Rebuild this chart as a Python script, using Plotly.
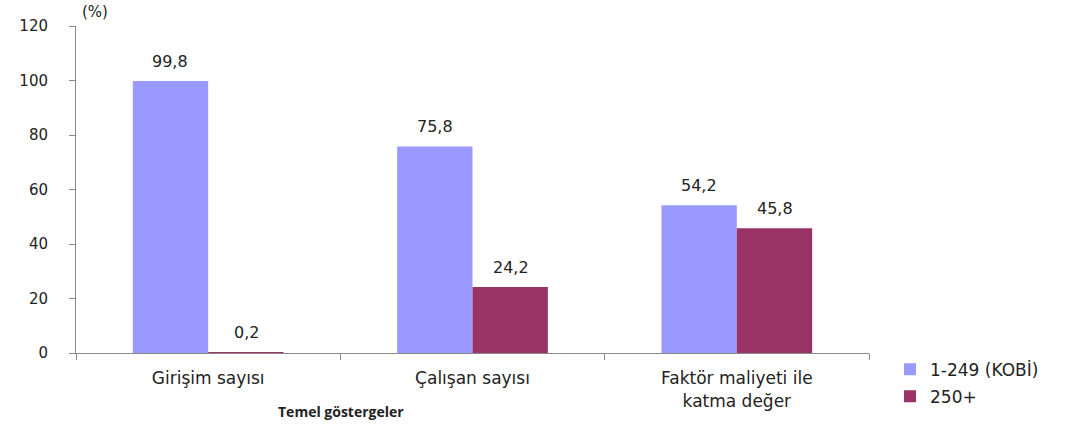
import plotly.graph_objects as go

categories = ["Girişim sayısı", "Çalışan sayısı", "Faktör maliyeti ile<br>katma değer"]
kobi = [99.8, 75.8, 54.2]
buyuk = [0.2, 24.2, 45.8]
series_names = ["1-249 (KOBİ)", "250+"]
y_ticks = [0, 20, 40, 60, 80, 100, 120]

font_main = "DejaVu Sans"
txt = "#222222"
fig = go.Figure()
fig.add_trace(go.Bar(x=categories, y=kobi, name=series_names[0], marker_color="#9999FF",
                     marker_line_width=0, legendgroup="a"))
fig.add_trace(go.Bar(x=categories, y=buyuk, name=series_names[1], marker_color="#993366",
                     marker_line_width=0, legendgroup="b"))

def fmt(v):
    return f"{v:.1f}".replace(".", ",")

# value labels above bars
for i, c in enumerate(categories):
    for k, vals in enumerate([kobi, buyuk]):
        fig.add_annotation(x=c, y=vals[i], text=fmt(vals[i]), showarrow=False,
                           xref="x", yref="y", yanchor="bottom", yshift=8,
                           xshift=(-38 if k == 0 else 38),
                           font=dict(family=font_main, size=16, color=txt))

fig.add_annotation(x=0, y=1.0, xref="paper", yref="paper", text="(%)", showarrow=False,
                   xanchor="left", yanchor="bottom", xshift=4, yshift=3,
                   font=dict(family=font_main, size=15, color=txt))
fig.add_annotation(x=0.334, y=0, xref="paper", yref="paper", text="<b>Temel göstergeler</b>",
                   showarrow=False, xanchor="center", yanchor="middle", yshift=-58,
                   font=dict(family="Open Sans", size=14, color=txt))

fig.update_layout(
    width=1069, height=431,
    margin=dict(l=76, r=200, t=26, b=78, autoexpand=False),
    plot_bgcolor="white", paper_bgcolor="white",
    barmode="group", bargap=0.43, bargroupgap=0,
    font=dict(family=font_main, size=15, color=txt),
    legend=dict(x=1.0265, y=0.004, xanchor="left", yanchor="top",
                font=dict(family=font_main, size=17, color=txt),
                traceorder="grouped", itemwidth=30, tracegroupgap=2),
    showlegend=True,
)
fig.update_xaxes(showline=True, linecolor="#888", linewidth=1, ticks="outside",
                 tickson="boundaries", ticklen=6, tickcolor="#888", showgrid=False,
                 automargin=False,
                 tickfont=dict(family=font_main, size=17, color=txt), ticklabelstandoff=10)
fig.update_yaxes(range=[0, 120], tickvals=y_ticks, showline=True, linecolor="#888",
                 linewidth=1, ticks="outside", ticklen=6, tickcolor="#888", showgrid=False,
                 zeroline=False, automargin=False,
                 tickfont=dict(family=font_main, size=15, color=txt),
                 ticklabelstandoff=18)

fig.write_html("out.html")
